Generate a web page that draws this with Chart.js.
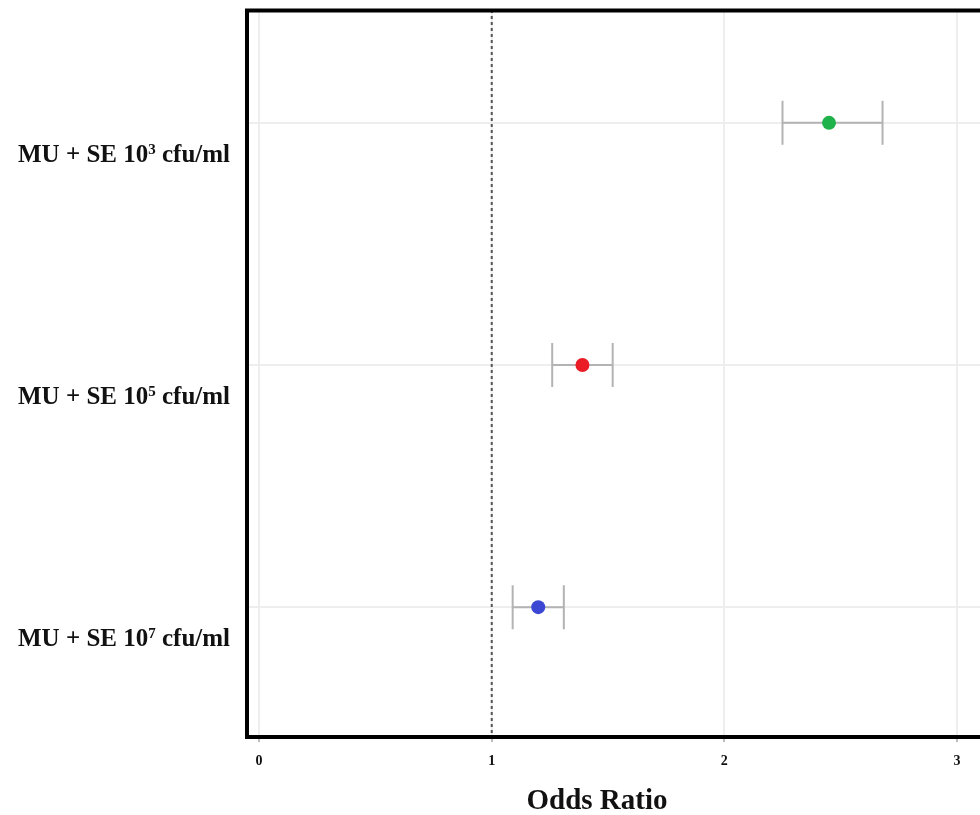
<!DOCTYPE html>
<html>
<head>
<meta charset="utf-8">
<script src="https://cdn.jsdelivr.net/npm/chart.js@4/dist/chart.umd.min.js"></script>
<style>
    body { margin: 0; background: #fff; }
    #chart-wrap { width: 980px; height: 815px; overflow: hidden; }
</style>
</head>
<body>
<div id="chart-wrap"><canvas id="forest-chart" width="980" height="815"></canvas></div>
<script>
// Rows, top to bottom
const labelPrefix = 'MU + SE 10';
const labelExponents = ['3', '5', '7'];
const labelUnit = 'cfu/ml';

// Odds ratio with confidence interval
const oddsRatio = [2.45, 1.39, 1.20];
const ciLower = [2.25, 1.26, 1.09];
const ciUpper = [2.68, 1.52, 1.31];
const pointColors = ['#1fb14a', '#ea1c26', '#3b46d3'];

const xTicks = [0, 1, 2, 3];
const referenceLine = 1;
const axisTitle = 'Odds Ratio';

const serif = '"Liberation Serif", "Times New Roman", serif';

// Error bars drawn under the points
const errorBars = {
    id: 'errorBars',
    beforeDatasetsDraw(chart) {
        const ctx = chart.ctx;
        const x = chart.scales.x;
        const y = chart.scales.y;
        ctx.save();
        ctx.strokeStyle = '#b3b3b3';
        ctx.lineWidth = 2;
        oddsRatio.forEach((v, i) => {
            const py = y.getPixelForValue(i);
            const x1 = x.getPixelForValue(ciLower[i]);
            const x2 = x.getPixelForValue(ciUpper[i]);
            ctx.beginPath();
            ctx.moveTo(x1, py);
            ctx.lineTo(x2, py);
            ctx.moveTo(x1, py - 22);
            ctx.lineTo(x1, py + 22);
            ctx.moveTo(x2, py - 22);
            ctx.lineTo(x2, py + 22);
            ctx.stroke();
        });

        // dashed line at OR = 1
        const rx = x.getPixelForValue(referenceLine);
        ctx.strokeStyle = '#555';
        ctx.setLineDash([3, 3]);
        ctx.beginPath();
        ctx.moveTo(rx, chart.chartArea.top);
        ctx.lineTo(rx, chart.chartArea.bottom);
        ctx.stroke();
        ctx.restore();
    }
};

// Frame, row labels with superscripts, axis title
const decorations = {
    id: 'decorations',
    afterDraw(chart) {
        const ctx = chart.ctx;
        const area = chart.chartArea;
        const y = chart.scales.y;
        ctx.save();

        ctx.strokeStyle = '#000';
        ctx.lineWidth = 4;
        ctx.beginPath();
        ctx.moveTo(chart.width, area.top + 0.5);
        ctx.lineTo(area.left, area.top + 0.5);
        ctx.lineTo(area.left, area.bottom + 1);
        ctx.lineTo(chart.width, area.bottom + 1);
        ctx.stroke();

        ctx.fillStyle = '#111';
        ctx.textBaseline = 'alphabetic';
        const mainFont = 'bold 25px ' + serif;
        const supFont = 'bold 15px ' + serif;
        labelExponents.forEach((exp, i) => {
            const base = y.getPixelForValue(i) + 39;
            ctx.font = mainFont;
            const w1 = ctx.measureText(labelPrefix).width;
            const w3 = ctx.measureText(' ' + labelUnit).width;
            ctx.font = supFont;
            const w2 = ctx.measureText(exp).width;
            let sx = area.left - 17 - (w1 + w2 + w3);
            ctx.font = mainFont;
            ctx.fillText(labelPrefix, sx, base);
            sx += w1;
            ctx.font = supFont;
            ctx.fillText(exp, sx, base - 8);
            sx += w2;
            ctx.font = mainFont;
            ctx.fillText(' ' + labelUnit, sx, base);
        });

        ctx.font = 'bold 29px ' + serif;
        ctx.textAlign = 'center';
        ctx.fillText(axisTitle, 597, 809);
        ctx.restore();
    }
};

new Chart(document.getElementById('forest-chart'), {
    type: 'scatter',
    data: {
        datasets: [{
            data: oddsRatio.map((v, i) => ({ x: v, y: i })),
            backgroundColor: pointColors,
            borderWidth: 0,
            pointRadius: 7,
            pointHoverRadius: 7
        }]
    },
    options: {
        responsive: false,
        animation: false,
        devicePixelRatio: 1,
        layout: { autoPadding: false, padding: { left: 247, top: 10, right: 0, bottom: 0 } },
        plugins: {
            legend: { display: false },
            tooltip: { enabled: false }
        },
        scales: {
            x: {
                type: 'linear',
                min: -0.052,
                max: 3.099,
                afterFit(axis) {
                    axis.height = 79;
                    axis.paddingLeft = 0;
                    axis.paddingRight = 0;
                },
                afterBuildTicks(axis) { axis.ticks = xTicks.map(v => ({ value: v })); },
                grid: { color: '#eeeeee', lineWidth: 2, tickLength: 6, tickColor: '#bbbbbb' },
                border: { display: false },
                ticks: {
                    padding: 11,
                    color: '#111',
                    font: { family: serif, size: 14, weight: 'bold' }
                }
            },
            y: {
                type: 'linear',
                reverse: true,
                min: -0.466,
                max: 2.532,
                afterFit(axis) {
                    axis.width = 0;
                    axis.paddingTop = 0;
                    axis.paddingBottom = 0;
                },
                afterBuildTicks(axis) { axis.ticks = labelExponents.map((e, i) => ({ value: i })); },
                grid: { color: '#eeeeee', lineWidth: 2, drawTicks: false },
                border: { display: false },
                ticks: { display: false }
            }
        }
    },
    plugins: [errorBars, decorations]
});
</script>
</body>
</html>
